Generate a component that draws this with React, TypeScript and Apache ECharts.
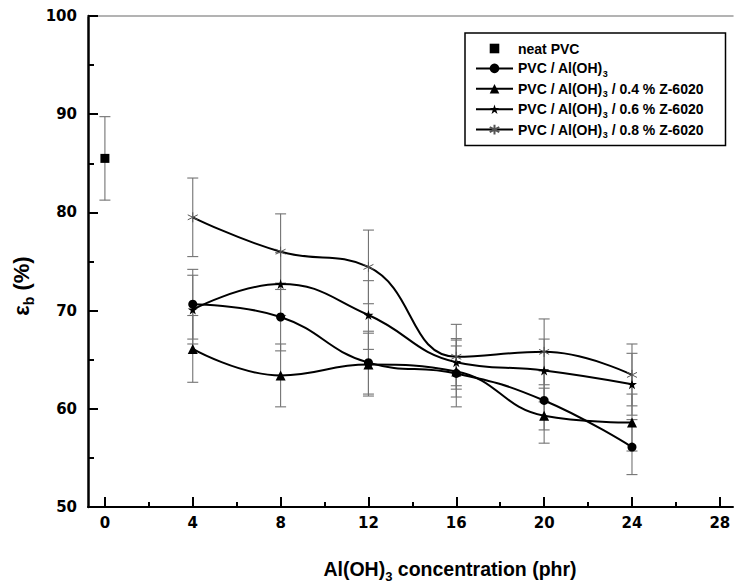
import { useEffect, useRef } from 'react';
import * as echarts from 'echarts';

// ---------- data ----------
const concentrations = [4, 8, 12, 16, 20, 24];

const neatX = [0];
const neatValues = [85.5];
const neatErrors = [4.25];

const aohValues = [70.65, 69.35, 64.7, 63.6, 60.85, 56.1];
const aohErrors = [3.55, 3.45, 3.2, 3.4, 3.0, 2.8];

const z04Values = [66.1, 63.4, 64.5, 63.8, 59.3, 58.6];
const z04Errors = [3.4, 3.2, 3.2, 2.6, 2.8, 2.9];

const z06Values = [70.1, 72.7, 69.55, 64.75, 63.9, 62.5];
const z06Errors = [3.5, 3.2, 3.5, 2.4, 3.2, 3.15];

const z08Values = [79.5, 76.0, 74.45, 65.3, 65.8, 63.45];
const z08Errors = [4.0, 3.85, 3.75, 3.3, 3.35, 3.15];

const xMajorTicks = [0, 4, 8, 12, 16, 20, 24, 28];
const xMinorTicks = [2, 6, 10, 14, 18, 22, 26];

const seriesNames = [
  'neat PVC',
  'PVC / Al(OH)3',
  'PVC / Al(OH)3 / 0.4 % Z-6020',
  'PVC / Al(OH)3 / 0.6 % Z-6020',
  'PVC / Al(OH)3 / 0.8 % Z-6020',
];
const legendLabels = [
  'neat PVC',
  '{n|PVC / Al(OH)}{s|3}',
  '{n|PVC / Al(OH)}{s|3}{n| / 0.4 % Z-6020}',
  '{n|PVC / Al(OH)}{s|3}{n| / 0.6 % Z-6020}',
  '{n|PVC / Al(OH)}{s|3}{n| / 0.8 % Z-6020}',
];

const STAR =
  'path://M5,0L6.18,3.62L10,3.62L6.9,5.86L8.09,9.5L5,7.26L1.91,9.5L3.1,5.86L0,3.62L3.82,3.62Z';
const ASTERISK = 'path://M5,0L5,10M0.67,2.5L9.33,7.5M0.67,7.5L9.33,2.5';

const X_MIN = -0.77;
const X_MAX = 28.6;

const TICK_FONT = 'DejaVu Sans';
const TEXT_FONT = 'Liberation Sans, Arial, sans-serif';

function pairs(xs: number[], ys: number[]) {
  return xs.map((x, i) => [x, ys[i]]);
}
function errRows(xs: number[], ys: number[], es: number[]) {
  return xs.map((x, i) => [x, ys[i] - es[i], ys[i] + es[i]]);
}

export default function App() {
  const ref = useRef<HTMLDivElement>(null);

  useEffect(() => {
    if (!ref.current) return;
    const chart = echarts.init(ref.current, undefined, { renderer: 'svg' });

    const errorData = [
      ...errRows(neatX, neatValues, neatErrors),
      ...errRows(concentrations, aohValues, aohErrors),
      ...errRows(concentrations, z04Values, z04Errors),
      ...errRows(concentrations, z06Values, z06Errors),
      ...errRows(concentrations, z08Values, z08Errors),
    ];

    const lineCommon = {
      type: 'line' as const,
      smooth: 0.45,
      showAllSymbol: true,
      lineStyle: { color: '#000', width: 2 },
      z: 3,
    };

    const option: any = {
      animation: false,
      backgroundColor: '#fff',
      grid: { left: 88, right: 1, top: 16, bottom: 76, outerBoundsMode: 'none' },
      xAxis: [
        {
          type: 'value',
          position: 'bottom',
          min: X_MIN,
          max: X_MAX,
          axisLine: { show: true, onZero: false, lineStyle: { color: '#000', width: 2 } },
          axisTick: {
            show: true,
            inside: true,
            length: 10,
            customValues: xMajorTicks,
            lineStyle: { color: '#000', width: 2 },
          },
          axisLabel: {
            customValues: xMajorTicks,
            margin: 8,
            color: '#000',
            fontFamily: TICK_FONT,
            fontWeight: 'bold',
            fontSize: 15,
          },
          splitLine: { show: false },
        },
        {
          type: 'value',
          position: 'bottom',
          min: X_MIN,
          max: X_MAX,
          axisLine: { show: false, onZero: false },
          axisTick: {
            show: true,
            inside: true,
            length: 5,
            customValues: xMinorTicks,
            lineStyle: { color: '#000', width: 2 },
          },
          axisLabel: { show: false },
          splitLine: { show: false },
        },
        {
          type: 'value',
          position: 'top',
          min: X_MIN,
          max: X_MAX,
          axisLine: { show: true, onZero: false, lineStyle: { color: '#9a9a9a', width: 1.5 } },
          axisTick: { show: false },
          axisLabel: { show: false },
          splitLine: { show: false },
        },
      ],
      yAxis: {
        type: 'value',
        min: 50,
        max: 100,
        interval: 10,
        axisLine: { show: true, onZero: false, lineStyle: { color: '#000', width: 2.5 } },
        axisTick: { show: true, inside: true, length: 10, lineStyle: { color: '#000', width: 2 } },
        minorTick: { show: true, splitNumber: 2, length: 6, lineStyle: { color: '#000', width: 2 } },
        axisLabel: {
          margin: 11,
          color: '#000',
          fontFamily: TICK_FONT,
          fontWeight: 'bold',
          fontSize: 15,
        },
        splitLine: { show: false },
      },
      legend: {
        orient: 'vertical',
        left: 465,
        top: 33,
        padding: [6, 22, 6, 10],
        itemGap: 0.4,
        itemWidth: 37,
        itemHeight: 12,
        selectedMode: false,
        borderColor: '#000',
        borderWidth: 1.5,
        data: seriesNames,
        formatter: (name: string) => legendLabels[seriesNames.indexOf(name)],
        textStyle: {
          color: '#000',
          fontFamily: TEXT_FONT,
          fontWeight: 'bold',
          fontSize: 14,
          lineHeight: 19,
          rich: {
            n: { color: '#000', fontFamily: TEXT_FONT, fontWeight: 'bold', fontSize: 14, lineHeight: 19 },
            s: {
              color: '#000',
              fontFamily: TEXT_FONT,
              fontWeight: 'bold',
              fontSize: 9,
              lineHeight: 8,
              padding: [11, 0, 0, 0],
            },
          },
        },
      },
      graphic: [
        {
          type: 'text',
          x: 450,
          y: 569,
          style: {
            text: '{n|Al(OH)}{s|3}{n| concentration (phr)}',
            align: 'center',
            verticalAlign: 'middle',
            fill: '#000',
            rich: {
              n: { fontFamily: TEXT_FONT, fontWeight: 'bold', fontSize: 19.5, lineHeight: 24 },
              s: { fontFamily: TEXT_FONT, fontWeight: 'bold', fontSize: 13, lineHeight: 14, padding: [15, 0, 0, 0] },
            },
          },
        },
        {
          type: 'text',
          x: 21,
          y: 286,
          rotation: Math.PI / 2,
          style: {
            text: '{n|ε}{s|b}{n| (%)}',
            align: 'center',
            verticalAlign: 'middle',
            fill: '#000',
            rich: {
              n: { fontFamily: TEXT_FONT, fontWeight: 'bold', fontSize: 22, lineHeight: 26 },
              s: { fontFamily: TEXT_FONT, fontWeight: 'bold', fontSize: 14, lineHeight: 14, padding: [15, 0, 0, 0] },
            },
          },
        },
      ],
      series: [
        {
          name: 'errors',
          type: 'custom',
          silent: true,
          z: 1,
          data: errorData,
          encode: { x: 0, y: [1, 2] },
          renderItem: (_params: any, api: any) => {
            const x = api.value(0);
            const top = api.coord([x, api.value(2)]);
            const bot = api.coord([x, api.value(1)]);
            const hw = 5.5;
            const style = { stroke: '#737373', lineWidth: 1.1 };
            return {
              type: 'group',
              children: [
                { type: 'line', shape: { x1: top[0], y1: top[1], x2: bot[0], y2: bot[1] }, style },
                { type: 'line', shape: { x1: top[0] - hw, y1: top[1], x2: top[0] + hw, y2: top[1] }, style },
                { type: 'line', shape: { x1: bot[0] - hw, y1: bot[1], x2: bot[0] + hw, y2: bot[1] }, style },
              ],
            };
          },
        },
        {
          ...lineCommon,
          name: seriesNames[0],
          data: pairs(neatX, neatValues),
          symbol: 'rect',
          symbolSize: 9,
          lineStyle: { color: 'rgba(0,0,0,0)', width: 0 },
          itemStyle: { color: '#000' },
        },
        {
          ...lineCommon,
          name: seriesNames[1],
          data: pairs(concentrations, aohValues),
          symbol: 'circle',
          symbolSize: 9,
          itemStyle: { color: '#000' },
        },
        {
          ...lineCommon,
          name: seriesNames[2],
          data: pairs(concentrations, z04Values),
          symbol: 'triangle',
          symbolSize: 10,
          itemStyle: { color: '#000' },
        },
        {
          ...lineCommon,
          name: seriesNames[3],
          data: pairs(concentrations, z06Values),
          symbol: STAR,
          symbolSize: 10,
          itemStyle: { color: '#000' },
        },
        {
          ...lineCommon,
          name: seriesNames[4],
          data: pairs(concentrations, z08Values),
          symbol: ASTERISK,
          symbolSize: 10,
          itemStyle: { color: 'rgba(0,0,0,0)', borderColor: '#555', borderWidth: 1 },
        },
      ],
    };

    chart.setOption(option);
    return () => chart.dispose();
  }, []);

  return (
    <div
      ref={ref}
      style={{ position: 'fixed', left: 0, top: 0, width: 734, height: 583, background: '#fff' }}
    />
  );
}
